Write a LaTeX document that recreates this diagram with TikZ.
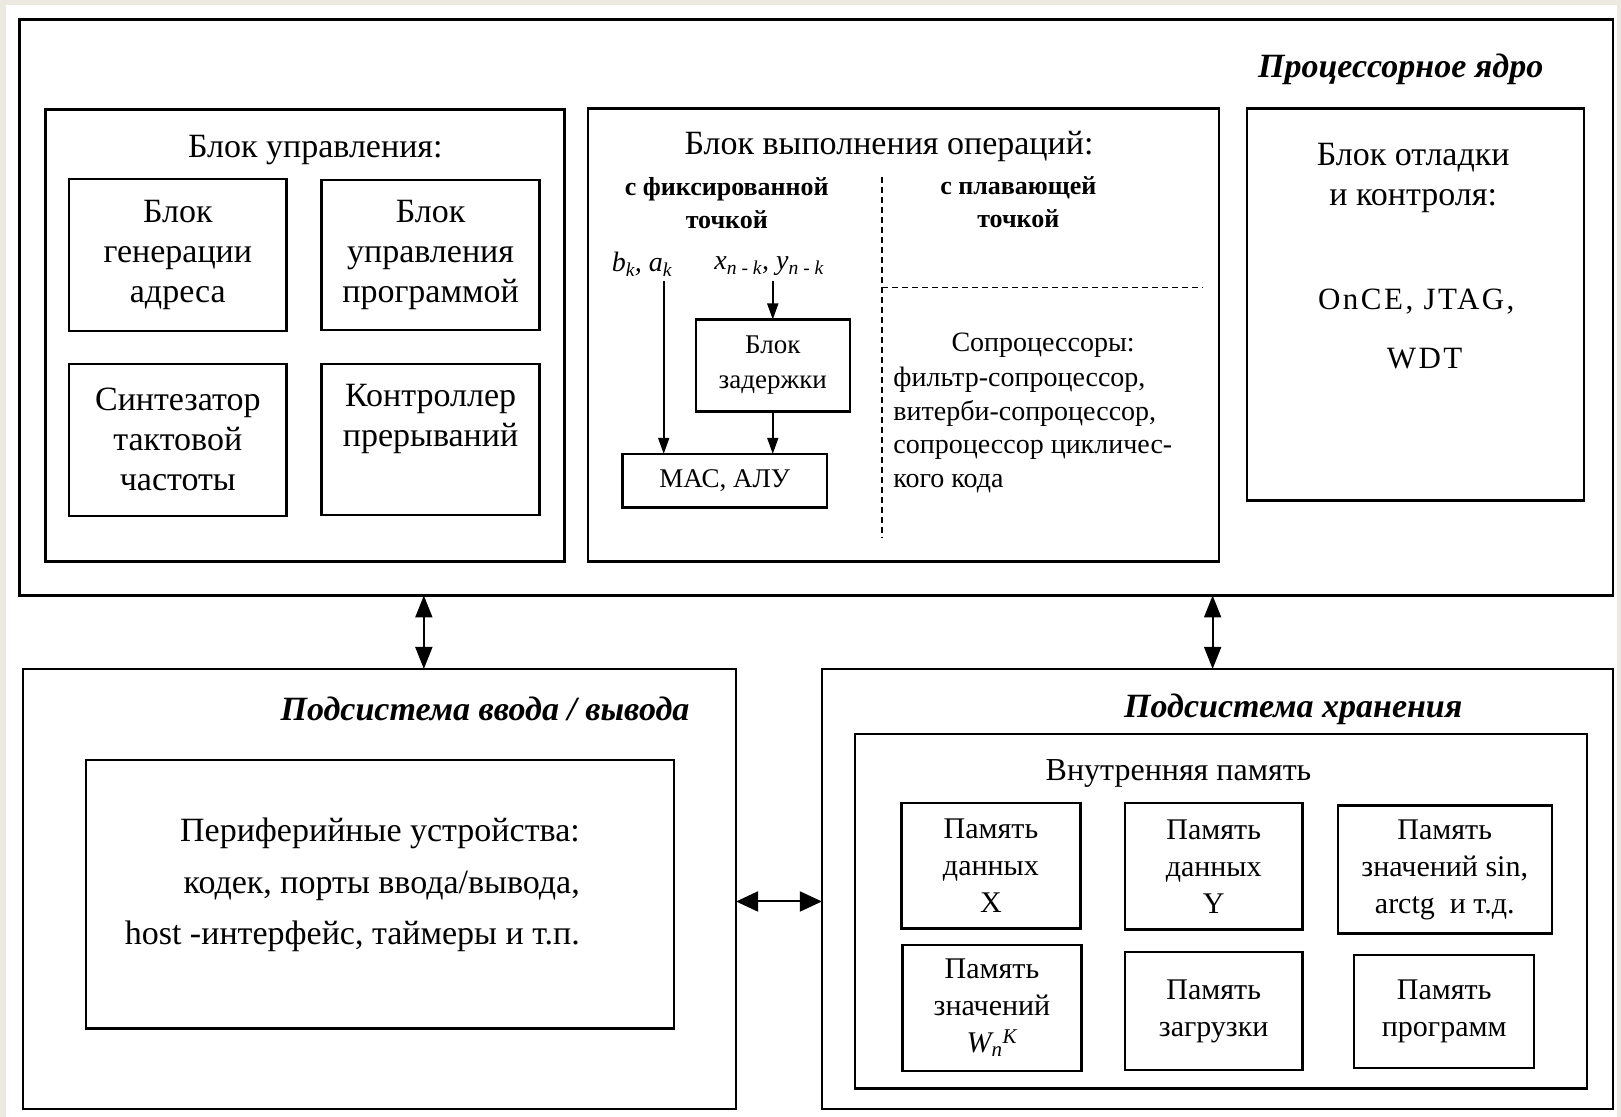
\documentclass[tikz,border=0pt]{standalone}
\usepackage{fontspec}
\setmainfont{Liberation Serif}
\usetikzlibrary{arrows.meta}
\definecolor{bgbeige}{RGB}{236,233,224}
\newcommand\fs[2]{\fontsize{#1}{#2}\selectfont}
\newcommand\mkbox[7][]{\node[bx,#1,minimum width={(#4-#2)*1.0338pt},minimum height={(#5-#3)*1.0338pt}] (#6) at ({(#2+#4)/2},{(#3+#5)/2}) {#7};}
\tikzset{
  bx/.style={draw, line width=2.4pt, inner sep=0pt, outer sep=0pt, align=center},
  tbig/.style={font=\fs{34}{40}, align=center, inner sep=0pt},
  ttl/.style={font=\fs{34}{40}\bfseries\itshape, inner sep=0pt},
  tfix/.style={font=\fs{26}{33}\bfseries, align=center, inner sep=0pt},
  tlab/.style={font=\fs{28}{32}\itshape, inner sep=0pt},
  tmid/.style={font=\fs{27}{35}, align=center, inner sep=0pt},
  tcop/.style={font=\fs{28}{33.5}, inner sep=0pt},
  tmem/.style={font=\fs{30}{37}, align=center, inner sep=0pt},
  tspc/.style={font=\fs{31}{36}\addfontfeature{LetterSpace=8}, inner sep=0pt},
  dsh/.style={line width=1.6pt, dash pattern=on 6pt off 4pt},
  sarr/.style={line width=1.8pt, -{Triangle[length=16pt,width=11pt]}},
  darr/.style={line width=2pt, {Triangle[length=22pt,width=17pt]}-{Triangle[length=22pt,width=17pt]}},
  harr/.style={line width=2pt, {Triangle[length=22pt,width=20pt]}-{Triangle[length=22pt,width=20pt]}}
}
\begin{document}
\begin{tikzpicture}[x=1.0338pt, y=-1.0338pt]
\useasboundingbox (0,0) rectangle (1568,1080);
\fill[bgbeige] (0,0) rectangle (1568,1080);
\fill[white] (6,5) rectangle (1564,1080);

% processor core
\mkbox{19}{19}{1560}{576}{proc}{}
\node[ttl, anchor=east] (proct) at (1493,67) {Процессорное ядро};

% control block
\mkbox{44}{106}{546}{543}{ctl}{}
\node[tbig] (ctlt) at (305,145) {Блок управления:};
\mkbox[tbig]{67}{173}{277}{320}{b1}{Блок\\генерации\\адреса}
\mkbox[tbig]{311}{174}{522}{319}{b2}{Блок\\управления\\программой}
\mkbox[tbig]{67}{352}{277}{499}{b3}{Синтезатор\\тактовой\\частоты}
\mkbox{311}{352}{522}{498}{b4}{}
\node[tbig] (b4t) at (416.5,405) {Контроллер\\прерываний};

% execution block
\mkbox{569}{105}{1179}{543}{exe}{}
\node[tbig] (exet) at (860,142) {Блок выполнения операций:};
\node[tfix] (fix) at (703,196) {с фиксированной\\точкой};
\node[tfix] (flt) at (985,196) {с плавающей\\точкой};
\coordinate (dv1) at (853,171);
\coordinate (dv2) at (853,520);
\coordinate (dh1) at (853,278);
\coordinate (dh2) at (1164,278);
\draw[dsh] (dv1) -- (dv2);
\draw[dsh] (dh1) -- (dh2);
\node[tlab] (bk) at (621,256) {b\textsubscript{k}, a\textsubscript{k}};
\node[tlab] (xn) at (744,257) {x\textsubscript{n - k}, y\textsubscript{n - k}};
\mkbox[tmid]{673}{309}{822}{398}{dly}{Блок\\задержки}
\mkbox[tmid]{602}{439}{800}{491}{mac}{МАС, АЛУ}
\coordinate (bkin) at (642,272);
\coordinate (xnin) at (747.5,272);
\draw[sarr] (bkin) -- (bkin |- mac.north);
\draw[sarr] (xnin) -- (dly.north);
\draw[sarr] (dly.south) -- (dly.south |- mac.north);
\node[tcop] (copt) at (1009,334) {Сопроцессоры:};
\node[tcop, align=left, anchor=west] (copl) at (864,416) {фильтр-сопроцессор,\\витерби-сопроцессор,\\сопроцессор цикличес-\\кого кода};

% debug block
\mkbox{1206}{105}{1532}{484}{dbg}{}
\node[tbig] (dbgt) at (1367,172) {Блок отладки\\и контроля:};
\node[tspc] (once) at (1370,292) {OnCE, JTAG,};
\node[tspc] (wdt) at (1378,347) {WDT};

% I/O subsystem
\mkbox{22}{647}{712}{1073}{io}{}
\node[ttl, anchor=east] (iot) at (667,686) {Подсистема ввода / вывода};
\mkbox{83}{735}{652}{995}{per}{}
\node[font=\fs{34}{51.5}, inner sep=0pt, align=right, anchor=east] (pert) at (561,856) {Периферийные устройства:\\кодек, порты ввода/вывода,\\host -интерфейс, таймеры и т.п.};

% storage subsystem
\mkbox{795}{647}{1560}{1073}{st}{}
\node[ttl] (stt) at (1251,686) {Подсистема хранения};
\mkbox{827}{710}{1535}{1053}{mem}{}
\node[font=\fs{32}{38}, inner sep=0pt] (memt) at (1140,748) {Внутренняя память};
\mkbox[tmem]{872}{777}{1045}{898}{m1}{Память\\данных\\X}
\mkbox[tmem]{1088}{777}{1260}{899}{m2}{Память\\данных\\Y}
\mkbox[tmem]{1294}{779}{1501}{903}{m3}{Память\\значений sin,\\arctg\ \ и т.д.}
\mkbox[tmem]{873}{914}{1046}{1036}{m4}{Память\\значений\\{\itshape W\textsubscript{n}\textsuperscript{K}}}
\mkbox[tmem]{1088}{921}{1260}{1035}{m5}{Память\\загрузки}
\mkbox[tmem]{1310}{924}{1484}{1033}{m6}{Память\\программ}

% connectors
\coordinate (c1) at (410,0);
\coordinate (c2) at (1173,0);
\coordinate (c3) at (0,872);
\draw[darr] (proc.south -| c1) -- (io.north -| c1);
\draw[darr] (proc.south -| c2) -- (st.north -| c2);
\draw[harr] (io.east |- c3) -- (st.west |- c3);
\end{tikzpicture}
\end{document}
